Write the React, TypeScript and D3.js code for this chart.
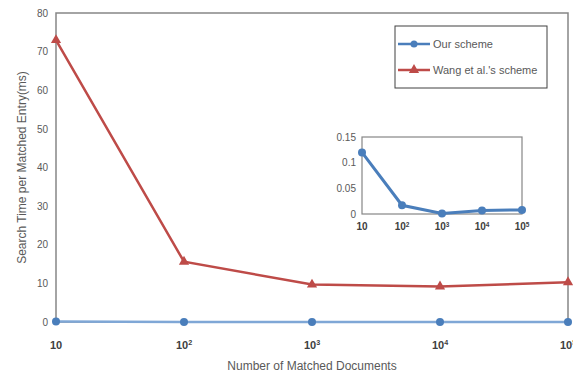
import React, { useRef, useEffect } from 'react';
import * as d3 from 'd3';

// data
const docs = [10, 100, 1000, 10000, 100000];
const exponents = ['', '2', '3', '4', '5'];
const ourScheme = [0.12, 0.017, 0.001, 0.007, 0.008];
const wangScheme = [73, 15.6, 9.7, 9.2, 10.3];
const mainYTicks = [0, 10, 20, 30, 40, 50, 60, 70, 80];
const insetYTicks = [0, 0.05, 0.1, 0.15];
const seriesNames = ['Our scheme', "Wang et al.'s scheme"];

// constants
const width = 573;
const height = 374;
const margin = { top: 13, right: 5, bottom: 52, left: 56 };
const inset = { left: 362, right: 522, top: 137, bottom: 214 };
const blue = '#4a7ebb';
const red = '#be4b48';
const axisGrey = '#868686';
const textGrey = '#595959';
const font = '"Liberation Sans", Arial, sans-serif';

const xScale = d3.scaleLog().domain([10, 100000]).range([margin.left, width - margin.right]);
const yScale = d3.scaleLinear().domain([0, 80]).range([height - margin.bottom, margin.top]);
const xInset = d3.scaleLog().domain([10, 100000]).range([inset.left, inset.right]);
const yInset = d3.scaleLinear().domain([0, 0.15]).range([inset.bottom, inset.top]);

const TickLabel = ({ x, y, exp, size }: { x: number; y: number; exp: string; size: number }) => (
  <text x={x} y={y} textAnchor="middle" fontSize={size} fill="#404040" fontWeight="bold" fontFamily={font}>
    10
    {exp && <tspan fontSize={size * 0.65} dy={-size * 0.35}>{exp}</tspan>}
  </text>
);

const App = () => {
  const yAxisRef = useRef<SVGGElement>(null);
  const yInsetRef = useRef<SVGGElement>(null);

  useEffect(() => {
    const styleAxis = (g: any) => {
      g.select('.domain').remove();
      g.selectAll('line').remove();
      g.selectAll('text').attr('fill', textGrey).attr('font-size', 10).attr('font-family', font);
    };
    d3.select(yAxisRef.current)
      .call(d3.axisLeft(yScale).tickValues(mainYTicks).tickSize(0).tickPadding(8) as any)
      .call(styleAxis);
    d3.select(yInsetRef.current)
      .call(d3.axisLeft(yInset).tickValues(insetYTicks).tickSize(0).tickPadding(6).tickFormat(d3.format('~g')) as any)
      .call(styleAxis);
  }, []);

  const line = d3.line<number>().x((d, i) => xScale(docs[i])).y(d => yScale(d));
  const insetLine = d3.line<number>().x((d, i) => xInset(docs[i])).y(d => yInset(d));
  const triangle = d3.symbol().type(d3.symbolTriangle).size(45)();

  const plotW = width - margin.right - margin.left;
  const plotH = height - margin.bottom - margin.top;

  return (
    <div style={{ position: 'absolute', left: 0, top: 0 }}>
      <svg width={width} height={height} style={{ display: 'block', background: '#fff' }}>
        {/* frame */}
        <rect x={margin.left} y={margin.top} width={plotW} height={plotH} fill="none" stroke={axisGrey} strokeWidth={1.5} />
        <g ref={yAxisRef} transform={`translate(${margin.left},0)`} />

        {/* x tick labels */}
        {docs.map((d, i) => (
          <TickLabel key={d} x={xScale(d)} y={349} exp={exponents[i]} size={11} />
        ))}
        <text x={(margin.left + width - margin.right) / 2} y={370} textAnchor="middle" fontSize={12} fill={textGrey} fontFamily={font}>
          Number of Matched Documents
        </text>
        <text transform={`translate(26,${(margin.top + height - margin.bottom) / 2}) rotate(-90)`} textAnchor="middle" fontSize={12} fill={textGrey} fontFamily={font}>
          Search Time per Matched Entry(ms)
        </text>

        {/* series */}
        <path d={line(ourScheme) ?? ''} fill="none" stroke="#7fa7d6" strokeWidth={2.5} />
        {ourScheme.map((d, i) => (
          <circle key={i} cx={xScale(docs[i])} cy={yScale(d)} r={4} fill={blue} />
        ))}
        <path d={line(wangScheme) ?? ''} fill="none" stroke={red} strokeWidth={2.5} />
        {wangScheme.map((d, i) => (
          <path key={i} d={triangle ?? ''} transform={`translate(${xScale(docs[i])},${yScale(d)})`} fill={red} />
        ))}

        {/* legend */}
        <rect x={395} y={26} width={152} height={62} fill="#fff" stroke="#404040" strokeWidth={1} />
        {seriesNames.map((name, i) => (
          <g key={name} transform={`translate(398,${44 + i * 26})`}>
            <line x1={0} x2={32} y1={0} y2={0} stroke={i === 0 ? blue : red} strokeWidth={2.5} />
            {i === 0 ? (
              <circle cx={16} cy={0} r={3.5} fill={blue} />
            ) : (
              <path d={triangle ?? ''} transform="translate(16,0)" fill={red} />
            )}
            <text x={35} y={4} fontSize={11} fill={textGrey} fontFamily={font}>{name}</text>
          </g>
        ))}

        {/* inset */}
        <rect x={inset.left} y={inset.top} width={inset.right - inset.left} height={inset.bottom - inset.top} fill="#fff" stroke={axisGrey} strokeWidth={1.2} />
        <g ref={yInsetRef} transform={`translate(${inset.left},0)`} />
        {docs.map((d, i) => (
          <TickLabel key={d} x={xInset(d)} y={230} exp={exponents[i]} size={10} />
        ))}
        <path d={insetLine(ourScheme) ?? ''} fill="none" stroke={blue} strokeWidth={3} />
        {ourScheme.map((d, i) => (
          <circle key={i} cx={xInset(docs[i])} cy={yInset(d)} r={4} fill={blue} />
        ))}
      </svg>
    </div>
  );
};

export default App;
